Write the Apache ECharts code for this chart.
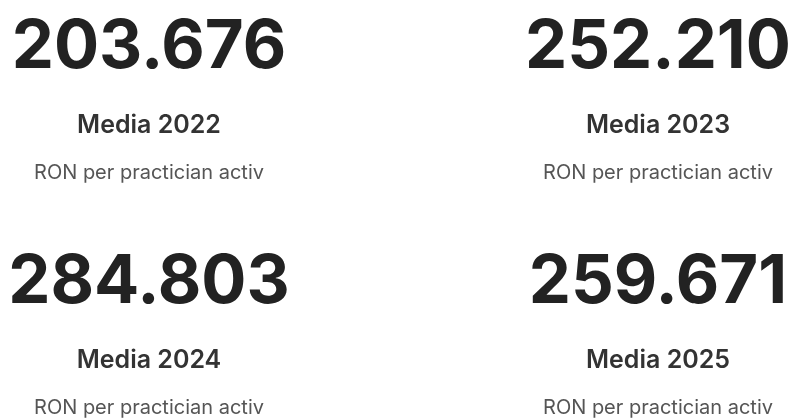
<!DOCTYPE html>
<html>
<head>
<meta charset="utf-8">
<script src="https://cdn.jsdelivr.net/npm/echarts@6/dist/echarts.min.js"></script>
<style>
  html, body { margin: 0; padding: 0; background: #fff; }
  #chart { width: 795px; height: 419px; }
</style>
</head>
<body>
<div id="chart"></div>
<script>
const years = ["2022", "2023", "2024", "2025"];
const values = ["203.676", "252.210", "284.803", "259.671"];
const subtitle = "RON per practician activ";

// column centres and row offsets of the cards
const colX = [149, 658];
const rowY = [0, 235];

let myChart = echarts.init(document.getElementById("chart"), null, { renderer: "canvas" });

let elements = [];
years.forEach(function (y, i) {
  let cx = colX[i % 2];
  let oy = rowY[Math.floor(i / 2)];
  elements.push({
    type: "text", x: cx, y: oy + 48,
    style: {
      text: values[i], fill: "#222", align: "center", verticalAlign: "middle",
      font: "bold 67px Inter"
    }
  });
  elements.push({
    type: "text", x: cx, y: oy + 125,
    style: {
      text: "Media " + y, fill: "#333", align: "center", verticalAlign: "middle",
      font: "600 25px Inter"
    }
  });
  elements.push({
    type: "text", x: cx, y: oy + 173,
    style: {
      text: subtitle, fill: "#555", align: "center", verticalAlign: "middle",
      font: "normal 20px Inter"
    }
  });
});

myChart.setOption({
  backgroundColor: "#fff",
  graphic: { elements: elements }
});
</script>
</body>
</html>
